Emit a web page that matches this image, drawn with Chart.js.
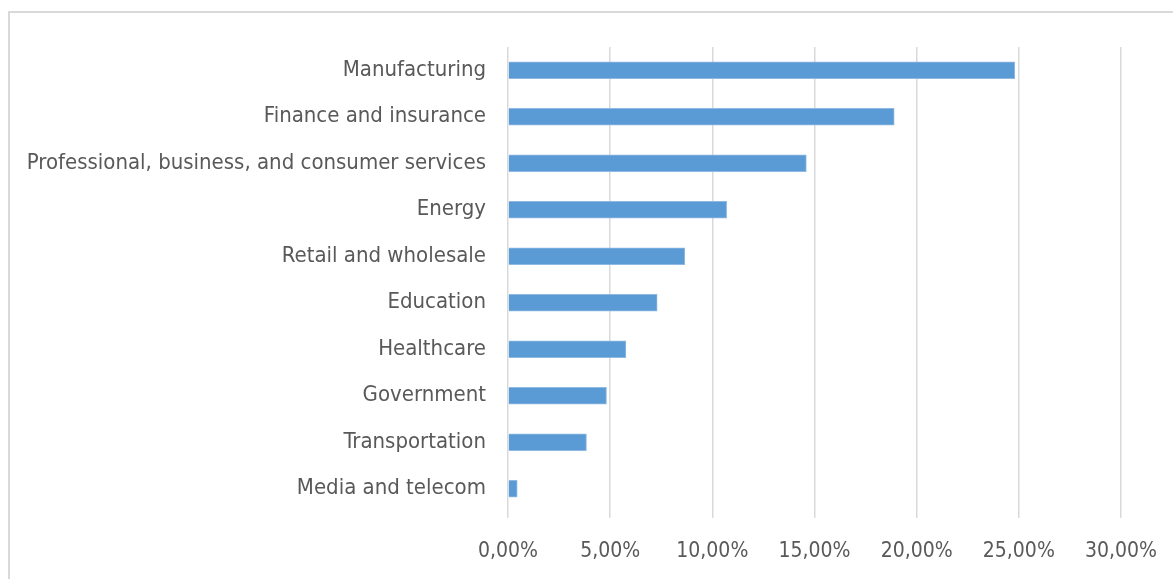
<!DOCTYPE html>
<html lang="en">
<head>
    <meta charset="UTF-8">
    <title>Sectors</title>
    <script src="https://cdn.jsdelivr.net/npm/chart.js"></script>
    <style>
        html, body { margin: 0; padding: 0; background: #fff; }
        #wrap { position: relative; width: 1173px; height: 579px; overflow: hidden; }
        #frame { position: absolute; left: 8px; top: 11px; width: 1300px; height: 700px;
                 border: 2px solid #d9d9d9; box-sizing: border-box; }
        canvas { position: absolute; left: 0; top: 0; }
    </style>
</head>

<body>
    <div id="wrap">
        <div id="frame"></div>
        <canvas id="sectorChart" width="1173" height="579"></canvas>
    </div>

    <script>
        // Data
        const sectors = [
            'Manufacturing',
            'Finance and insurance',
            'Professional, business, and consumer services',
            'Energy',
            'Retail and wholesale',
            'Education',
            'Healthcare',
            'Government',
            'Transportation',
            'Media and telecom'
        ];
        const shares = [0.248, 0.189, 0.146, 0.107, 0.0865, 0.073, 0.0577, 0.0482, 0.0384, 0.0045];
        const tickValues = [0, 0.05, 0.10, 0.15, 0.20, 0.25, 0.30];

        const fontFamily = "'Liberation Sans Narrow', 'DejaVu Sans Condensed', sans-serif";
        Chart.defaults.font.family = fontFamily;
        Chart.defaults.color = '#595959';

        const ctx = document.getElementById('sectorChart').getContext('2d');
        const sectorChart = new Chart(ctx, {
            type: 'bar',
            data: {
                labels: sectors,
                datasets: [{
                    data: shares,
                    backgroundColor: '#5b9bd5',
                    borderColor: '#8fb9e3',
                    borderWidth: 1,
                    barThickness: 17
                }]
            },
            options: {
                indexAxis: 'y',
                responsive: false,
                animation: false,
                layout: { padding: { top: 47, right: 52, bottom: 0, left: 0 } },
                plugins: { legend: { display: false }, tooltip: { enabled: false } },
                scales: {
                    x: {
                        min: 0,
                        max: 0.3,
                        afterBuildTicks: (scale) => { scale.ticks = tickValues.map(v => ({ value: v })); },
                        afterFit: (scale) => {
                            scale.height = 67;
                            scale.paddingLeft = 0;
                            scale.paddingRight = 0;
                        },
                        border: { display: false },
                        grid: { color: '#d9d9d9', lineWidth: 1.5, tickLength: 6, drawTicks: true },
                        ticks: {
                            padding: 21,
                            maxRotation: 0,
                            font: { size: 21 },
                            callback: (v) => (v * 100).toFixed(2).replace('.', ',') + '%'
                        }
                    },
                    y: {
                        afterFit: (scale) => { scale.width = 508; },
                        border: { display: false },
                        grid: { display: false },
                        ticks: { padding: 14, font: { size: 22 } }
                    }
                }
            }
        });
    </script>
</body>
</html>
